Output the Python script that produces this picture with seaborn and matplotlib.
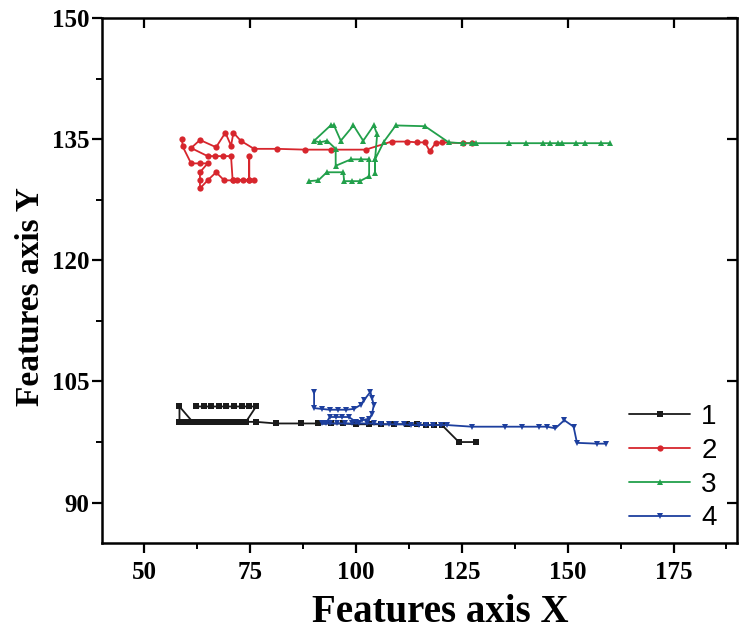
import matplotlib
matplotlib.use("Agg")
import matplotlib.pyplot as plt
import seaborn as sns
import numpy as np
import pandas as pd
from matplotlib.ticker import MultipleLocator

# ---------------- data ----------------
s1_x = [62.2, 64.0, 65.8, 67.6, 69.4, 71.2, 73.0, 74.8, 76.4, 74.0, 72.5, 71.0, 69.5, 68.0,
        66.5, 65.0, 63.5, 62.0, 60.5, 59.3, 58.3, 58.3, 61.4, 63.0, 64.5, 66.0, 67.5, 69.0,
        70.5, 72.0, 73.5, 74.0, 76.4, 81.1, 87.0, 91.0, 94.0, 97.0, 100.0, 103.0, 106.0,
        109.0, 112.0, 114.5, 116.5, 118.5, 120.3, 124.3, 128.4]
s1_y = [101.9, 101.9, 101.9, 101.9, 101.9, 101.9, 101.9, 101.9, 101.9, 100.0, 100.0, 100.0,
        100.0, 100.0, 100.0, 100.0, 100.0, 100.0, 100.0, 100.0, 100.0, 101.9, 100.0, 100.0,
        100.0, 100.0, 100.0, 100.0, 100.0, 100.0, 100.0, 100.0, 100.0, 99.8, 99.8, 99.8,
        99.8, 99.8, 99.7, 99.7, 99.7, 99.7, 99.7, 99.7, 99.6, 99.6, 99.6, 97.5, 97.5]

s2_x = [58.9, 59.05, 61.05, 63.14, 64.95, 63.14, 63.14, 63.14, 64.95, 66.95, 68.86, 70.86,
        72.0, 73.2, 74.77, 74.77, 74.77, 75.91, 70.86, 70.48, 68.66, 66.67, 64.95, 61.05,
        63.14, 66.95, 69.14, 70.48, 71.05, 72.77, 75.91, 81.44, 88.0, 94.0, 102.3, 108.4,
        112.1, 114.5, 116.3, 117.4, 118.8, 120.4, 125.3, 127.3]
s2_y = [135.0, 134.1, 132.0, 132.0, 132.0, 130.9, 129.9, 128.9, 129.9, 130.9, 129.9, 129.9,
        129.9, 129.9, 129.9, 132.9, 129.9, 129.9, 129.9, 132.9, 132.9, 132.9, 132.9, 133.9,
        134.9, 134.0, 135.8, 134.2, 135.8, 134.8, 133.8, 133.8, 133.7, 133.7, 133.7, 134.7,
        134.7, 134.6, 134.6, 133.5, 134.5, 134.6, 134.5, 134.5]

s3_x = [88.9, 91.1, 93.1, 97.0, 97.2, 99.0, 100.9, 103.1, 103.1, 101.1, 98.8, 95.2, 95.2,
        93.2, 91.4, 90.1, 94.0, 94.8, 96.4, 99.4, 101.7, 104.2, 105.0, 104.5, 104.5, 104.5,
        106.6, 109.4, 116.3, 121.9, 125.3, 127.3, 128.4, 136.1, 140.1, 144.1, 145.9, 147.8,
        148.6, 152.0, 154.0, 157.9, 159.9]
s3_y = [129.8, 129.9, 130.9, 130.9, 129.8, 129.8, 129.8, 130.4, 132.5, 132.5, 132.5, 131.7,
        133.8, 134.8, 134.6, 134.8, 136.7, 136.7, 134.8, 136.7, 134.8, 136.7, 135.6, 132.5,
        130.8, 132.5, 134.7, 136.7, 136.6, 134.6, 134.5, 134.5, 134.5, 134.5, 134.5, 134.5,
        134.5, 134.5, 134.5, 134.5, 134.5, 134.5, 134.5]

s4_x = [90.1, 90.1, 91.9, 93.8, 95.7, 97.6, 99.5, 101.1, 101.9, 103.4, 103.8, 104.2, 103.8,
        103.1, 101.5, 100.0, 98.3, 96.8, 95.2, 93.8, 92.9, 92.0, 93.8, 95.5, 97.3, 99.0,
        100.8, 102.5, 104.3, 106.0, 107.8, 109.5, 111.3, 113.0, 114.8, 116.5, 118.3, 120.0,
        121.6, 127.4, 135.3, 139.2, 143.2, 145.1, 147.1, 149.2, 151.4, 152.2, 156.9, 159.0]
s4_y = [103.7, 101.7, 101.6, 101.5, 101.5, 101.5, 101.6, 102.1, 102.7, 103.7, 102.9, 102.1,
        101.0, 100.4, 100.2, 100.0, 100.6, 100.6, 100.6, 100.6, 99.8, 99.8, 99.8, 99.8,
        99.8, 99.8, 99.8, 99.8, 99.8, 99.7, 99.7, 99.7, 99.7, 99.6, 99.6, 99.6, 99.6, 99.6,
        99.6, 99.4, 99.4, 99.4, 99.4, 99.4, 99.2, 100.2, 99.4, 97.4, 97.3, 97.3]

series_labels = ["1", "2", "3", "4"]
x_ticks = [50, 75, 100, 125, 150, 175]
y_ticks = [90, 105, 120, 135, 150]

# ---------------- style ----------------
sns.set_theme(style="ticks")
plt.rcParams["font.family"] = ["Liberation Serif", "DejaVu Serif"]
plt.rcParams["text.color"] = "black"
plt.rcParams["axes.labelcolor"] = "black"
plt.rcParams["xtick.color"] = "black"
plt.rcParams["ytick.color"] = "black"

fig = plt.figure(figsize=(7.39, 6.33), dpi=100)
ax = fig.add_axes([102 / 739, 1 - 543 / 633, (737 - 102) / 739, (543 - 18) / 633])

colors = ["#1a1a1a", "#d7262d", "#22a04b", "#1d3f9e"]
markers = ["s", "o", "^", "v"]
data = [(s1_x, s1_y), (s2_x, s2_y), (s3_x, s3_y), (s4_x, s4_y)]

for (xs, ys), lab, c, m in zip(data, series_labels, colors, markers):
    df = pd.DataFrame({"x": xs, "y": ys})
    sns.lineplot(data=df, x="x", y="y", sort=False, estimator=None, ax=ax,
                 color=c, marker=m, markersize=4.5, markeredgewidth=0,
                 linewidth=1.3, label=lab)

ax.set_xlim(40, 190)
ax.set_ylim(85, 150)
ax.set_xticks(x_ticks)
ax.set_yticks(y_ticks)
ax.xaxis.set_minor_locator(MultipleLocator(12.5))
ax.yaxis.set_minor_locator(MultipleLocator(7.5))

for sp in ax.spines.values():
    sp.set_visible(True)
    sp.set_linewidth(1.8)
    sp.set_color("black")

ax.tick_params(axis="both", which="major", direction="out", length=7, width=1.6,
               colors="black", labelsize=18, pad=6)
ax.tick_params(axis="y", which="major", pad=2)
ax.tick_params(axis="both", which="minor", direction="out", length=4.5, width=1.4,
               colors="black")
ax.tick_params(top=False, right=False, which="minor")
for lab in ax.get_xticklabels() + ax.get_yticklabels():
    lab.set_fontweight("bold")
    lab.set_color("black")

# inward ticks on top and right
secx = ax.secondary_xaxis("top")
secx.set_xticks(x_ticks)
secx.tick_params(direction="in", length=7, width=1.6, labeltop=False, colors="black")
secx.spines["top"].set_visible(False)
secy = ax.secondary_yaxis("right")
secy.set_yticks(y_ticks)
secy.tick_params(direction="in", length=7, width=1.6, labelright=False, colors="black")
secy.spines["right"].set_visible(False)

ax.set_xlabel("Features axis X", fontsize=28, fontweight="bold", color="black")
ax.set_ylabel("Features axis Y", fontsize=24, fontweight="bold", color="black")
ax.xaxis.set_label_coords((440 - 102) / 635, (543 - 594) / 525)
ax.yaxis.set_label_coords((46 - 102) / 635, 1 - (297 - 18) / 525)

leg = ax.legend(loc="upper left", bbox_to_anchor=(629 / 739, 1 - 404 / 633),
                bbox_transform=fig.transFigure, frameon=False, borderpad=0,
                borderaxespad=0, handlelength=2.2, handletextpad=0.4,
                labelspacing=0.28, prop={"family": "Liberation Sans", "size": 20})
for t in leg.get_texts():
    t.set_color("black")

ax.set_facecolor("white")
fig.patch.set_facecolor("white")
fig.savefig("out.png", dpi=100, facecolor="white")
